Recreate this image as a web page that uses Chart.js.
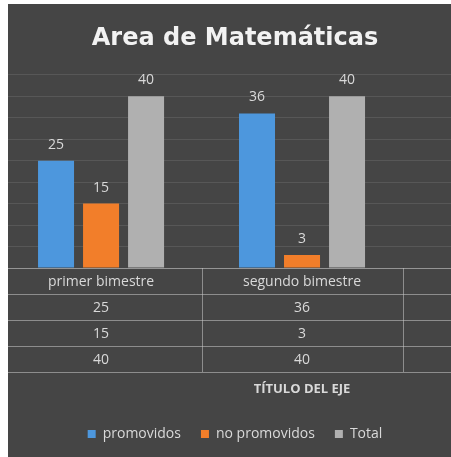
<!DOCTYPE html>
<html>
<head>
<meta charset="utf-8">
<script src="https://cdn.jsdelivr.net/npm/chart.js@4"></script>
<style>
    html, body { margin: 0; padding: 0; background: #fff; overflow: hidden; }
    body { width: 451px; height: 457px; position: relative; }
    #wrap { position: absolute; left: 8px; top: 4px; width: 454px; height: 453px; }
</style>
</head>
<body>
<div id="wrap"><canvas id="chart" width="454" height="453"></canvas></div>
<script>
const categories = ['primer bimestre', 'segundo bimestre']
const promovidos = [25, 36]
const noPromovidos = [15, 3]
const total = [40, 40]
const seriesNames = ['promovidos', 'no promovidos', 'Total']
const tableColumns = 3   // the data table has one empty column at the right

const textColor = '#d9d9d9'
const lineColor = 'rgba(200, 200, 200, 0.55)'

function points(values) {
    return values.map((v, i) => ({ x: i, y: v }))
}

// value labels on top of the bars
const barLabels = {
    id: 'barLabels',
    afterDatasetsDraw(chart) {
        const ctx = chart.ctx
        ctx.save()
        ctx.fillStyle = textColor
        ctx.font = '14px "Open Sans"'
        ctx.textAlign = 'center'
        ctx.textBaseline = 'middle'
        chart.data.datasets.forEach((ds, d) => {
            chart.getDatasetMeta(d).data.forEach((bar, i) => {
                ctx.fillText(ds.data[i].y, bar.x, bar.y - 16)
            })
        })
        ctx.restore()
    }
}

// Excel style data table under the plot, plus the axis title
const dataTable = {
    id: 'dataTable',
    afterDraw(chart) {
        const ctx = chart.ctx
        const x = chart.scales.x
        const top = chart.chartArea.bottom
        const rowH = 26
        const rows = [categories, promovidos, noPromovidos, total]
        ctx.save()

        ctx.strokeStyle = lineColor
        ctx.lineWidth = 1
        for (let r = 0; r <= rows.length; r++) {
            const y = Math.round(top + r * rowH) + 0.5
            ctx.beginPath()
            ctx.moveTo(0, y)
            ctx.lineTo(chart.width, y)
            ctx.stroke()
        }
        for (let c = 1; c < tableColumns; c++) {
            const px = Math.round(x.getPixelForValue(c - 0.5)) + 0.5
            ctx.beginPath()
            ctx.moveTo(px, top)
            ctx.lineTo(px, top + rows.length * rowH)
            ctx.stroke()
        }

        ctx.fillStyle = textColor
        ctx.textAlign = 'center'
        ctx.textBaseline = 'middle'
        ctx.font = '14px "Open Sans"'
        rows.forEach((row, r) => {
            row.forEach((v, c) => {
                ctx.fillText(v, x.getPixelForValue(c), top + r * rowH + rowH / 2 + 1)
            })
        })

        ctx.font = 'bold 13px "Open Sans"'
        ctx.fillText('TÍTULO DEL EJE', x.getPixelForValue((tableColumns - 1) / 2), top + rows.length * rowH + 17)
        ctx.restore()
    }
}

const background = {
    id: 'background',
    beforeDraw(chart) {
        const ctx = chart.ctx
        ctx.save()
        ctx.fillStyle = '#454545'
        ctx.fillRect(0, 0, chart.width, chart.height)
        ctx.restore()
    }
}

new Chart(document.getElementById('chart'), {
    type: 'bar',
    data: {
        datasets: [
            { label: seriesNames[0], data: points(promovidos), backgroundColor: '#4d97dd' },
            { label: seriesNames[1], data: points(noPromovidos), backgroundColor: '#f27e2a' },
            { label: seriesNames[2], data: points(total), backgroundColor: '#b0b0b0' }
        ]
    },
    options: {
        responsive: false,
        animation: false,
        layout: { padding: { left: 0, right: 0, top: 0, bottom: 6 } },
        datasets: {
            bar: { categoryPercentage: 0.672, barPercentage: 0.8 }
        },
        scales: {
            x: {
                type: 'linear',
                offset: false,
                min: -0.463,
                max: 1.796,
                ticks: { display: false },
                grid: { display: false },
                border: { display: false },
                afterBuildTicks(scale) {
                    scale.ticks = categories.map((c, i) => ({ value: i }))
                },
                afterFit(scale) {
                    scale.height = 139
                    scale.paddingLeft = 0
                    scale.paddingRight = 0
                }
            },
            y: {
                min: 0,
                max: 45,
                ticks: { display: false, stepSize: 5 },
                grid: { color: 'rgba(255, 255, 255, 0.10)', drawTicks: false },
                border: { display: false },
                afterFit(scale) { scale.width = 0 }
            }
        },
        plugins: {
            title: {
                display: true,
                text: 'Area de Matemáticas',
                color: '#f2f2f2',
                font: { family: 'DejaVu Sans', size: 24, weight: 'bold' },
                padding: { top: 20, bottom: 22 }
            },
            legend: {
                position: 'bottom',
                labels: {
                    color: textColor,
                    font: { family: 'Open Sans', size: 14 },
                    boxWidth: 8,
                    boxHeight: 8,
                    padding: 20
                }
            },
            tooltip: { enabled: false }
        }
    },
    plugins: [background, barLabels, dataTable]
})
</script>
</body>
</html>
